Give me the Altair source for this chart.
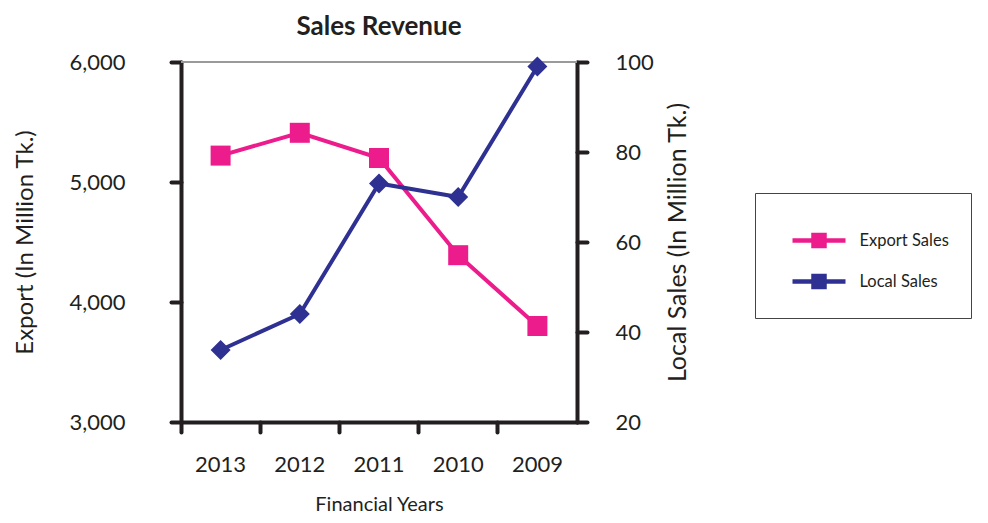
import altair as alt
import pandas as pd

years = ["2013", "2012", "2011", "2010", "2009"]
export_sales = [5220, 5410, 5200, 4390, 3800]
local_sales = [36, 44, 73, 70, 99]
series_names = ["Export Sales", "Local Sales"]
series_colors = ["#ec1c8c", "#2e3192"]

export_df = pd.DataFrame({"year": years, "value": export_sales, "series": series_names[0]})
local_df = pd.DataFrame({"year": years, "value": local_sales, "series": series_names[1]})

FONT = "Lato"
INK = "#231f20"

legend_path = "M-2.65,0H2.65M-0.55,-0.55H0.55V0.55H-0.55ZM-0.2,-0.2H0.2V0.2H-0.2Z"
legend = alt.Legend(
    orient="none", legendX=574, legendY=131, padding=22,
    strokeColor="#444444", fillColor="white",
    symbolType=legend_path, symbolSize=400, symbolStrokeWidth=4.5,
    symbolOffset=29.5, labelOffset=28, labelFont=FONT, labelFontSize=16.5,
    labelColor=INK, title=" ", titleFontSize=8, titlePadding=5, rowPadding=12,
)

color = alt.Color("series:N", scale=alt.Scale(domain=series_names, range=series_colors), legend=legend)

x_enc = alt.X(
    "year:N", sort=years,
    scale=alt.Scale(type="band", paddingInner=0, paddingOuter=0),
    axis=alt.Axis(
        title="Financial Years", bandPosition=0, labelAngle=0,
        labelPadding=22, titlePadding=19, titleFontSize=20,
    ),
)

export_line = alt.Chart(export_df).mark_line(
    strokeWidth=4,
    point=alt.OverlayMarkDef(shape="square", size=400, filled=True, opacity=1),
).encode(
    x=x_enc,
    y=alt.Y(
        "value:Q",
        scale=alt.Scale(domain=[3000, 6000], nice=False, zero=False),
        axis=alt.Axis(
            orient="left", values=[3000, 4000, 5000, 6000], format=",.0f",
            title="Export (In Million Tk.)", labelPadding=46, titlePadding=31,
            titleFontSize=24, grid=False,
        ),
    ),
    color=color,
)

top_rule = alt.Chart(export_df).mark_rule(color="#9a9a9a", strokeWidth=2).encode(
    y=alt.datum(6000)
)

export_layer = alt.layer(top_rule, export_line)

local_line = alt.Chart(local_df).mark_line(
    strokeWidth=4,
    point=alt.OverlayMarkDef(shape="diamond", size=400, filled=True, opacity=1),
).encode(
    x=x_enc,
    y=alt.Y(
        "value:Q",
        scale=alt.Scale(domain=[20, 100], nice=False, zero=False),
        axis=alt.Axis(
            orient="right", values=[20, 40, 60, 80, 100],
            title="Local Sales (In Million Tk.)", titleAngle=270,
            labelPadding=28, titlePadding=37, grid=False,
        ),
    ),
    color=color,
)

chart = alt.layer(export_layer, local_line).resolve_scale(y="independent").properties(
    width=396, height=360,
    title=alt.Title("Sales Revenue", font=FONT, fontSize=26, fontWeight="bold",
                    color=INK, anchor="middle", frame="group", offset=11),
    autosize=alt.AutoSizeParams(type="none"),
    padding={"left": 173, "top": 54, "right": 403, "bottom": 93},
).configure_view(stroke=None).configure_axis(
    domainColor=INK, domainWidth=4, domainCap="round",
    tickColor=INK, tickWidth=4, tickSize=10, tickCap="round",
    labelFont=FONT, labelFontSize=22, labelColor=INK,
    titleFont=FONT, titleFontSize=25, titleFontWeight="normal", titleColor=INK,
)

chart.save("out.html", embed_options={"renderer": "svg", "actions": False})
